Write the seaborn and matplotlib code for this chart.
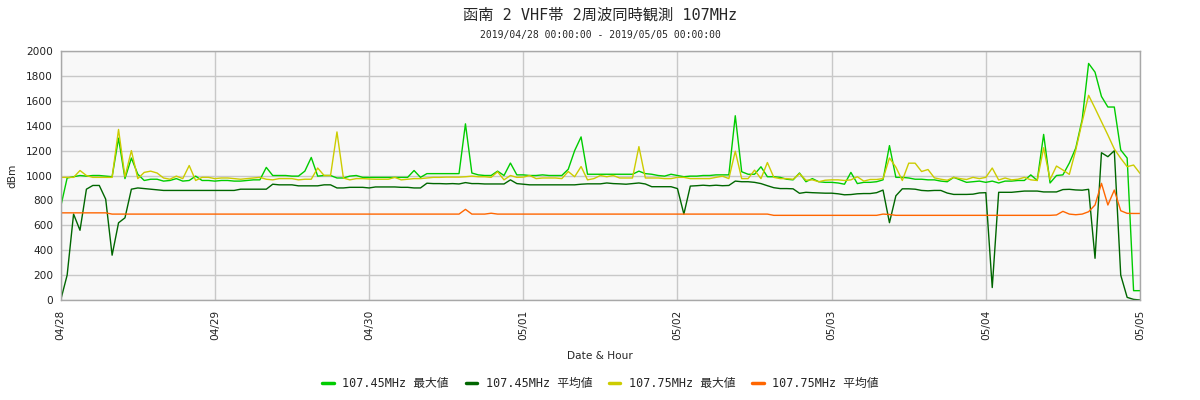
import pandas as pd
import seaborn as sns
import matplotlib.pyplot as plt
import matplotlib.dates as mdates

START = "2019-04-28 00:00"
END = "2019-05-05 00:00"
SERIES = ["107.45MHz 最大値", "107.45MHz 平均値", "107.75MHz 最大値", "107.75MHz 平均値"]
COLORS = ["#00cc00", "#006600", "#cccc00", "#ff6600"]

# hourly values, one row per day (00h..23h), last value is 05/05 00:00
max_45 = [
    750, 980, 990, 1000, 995, 1000, 1000, 995, 990, 1300, 975, 1140, 1010, 960, 970, 970, 955, 960, 975, 955, 960, 995, 960, 960,
    955, 960, 960, 955, 955, 960, 965, 965, 1065, 1000, 1000, 1000, 995, 995, 1035, 1145, 995, 1000, 1000, 980, 980, 995, 1000, 985,
    985, 985, 985, 985, 985, 985, 985, 1040, 985, 1015, 1015, 1015, 1015, 1015, 1015, 1415, 1020, 1005, 1000, 1000, 1035, 1000, 1100, 1005,
    1005, 1000, 1000, 1005, 1000, 1000, 1000, 1050, 1200, 1310, 1010, 1010, 1010, 1010, 1010, 1010, 1010, 1010, 1035, 1015, 1010, 1000, 995, 1010,
    1000, 990, 995, 995, 1000, 1000, 1005, 1005, 1005, 1480, 1030, 1010, 1010, 1070, 990, 990, 985, 970, 965, 1020, 950, 975, 950, 945,
    945, 940, 930, 1025, 935, 945, 945, 950, 965, 1240, 985, 985, 980, 970, 970, 965, 965, 955, 950, 985, 965, 945, 950, 955,
    945, 955, 940, 955, 955, 960, 960, 1005, 960, 1330, 940, 1000, 1005, 1100, 1220, 1450, 1900, 1830, 1635, 1550, 1550, 1205, 1140, 75,
    75,
]
avg_45 = [
    0, 200, 690, 560, 890, 920, 920, 810, 360, 620, 660, 890, 900, 895, 890, 885, 880, 880, 880, 880, 880, 880, 880, 880,
    880, 880, 880, 880, 890, 890, 890, 890, 890, 930, 925, 925, 925, 917, 917, 917, 917, 925, 925, 900, 900, 905, 905, 905,
    900, 908, 908, 908, 908, 905, 905, 900, 900, 938, 935, 935, 933, 935, 932, 943, 935, 935, 932, 932, 932, 932, 965, 935,
    930, 925, 925, 925, 925, 925, 925, 925, 925, 930, 933, 933, 933, 940, 935, 933, 930, 935, 940, 932, 910, 910, 910, 910,
    895, 690, 915, 918, 922, 918, 922, 918, 920, 955, 950, 950, 945, 935, 918, 902, 895, 895, 893, 857, 865, 862, 860, 858,
    858, 853, 845, 847, 853, 855, 855, 862, 883, 621, 837, 893, 893, 890, 880, 877, 880, 880, 859, 848, 848, 848, 850, 860,
    862, 100, 865, 865, 865, 870, 875, 875, 875, 868, 868, 868, 887, 889, 884, 882, 889, 335, 1183, 1151, 1199, 200, 21, 5,
    0,
]
max_75 = [
    985, 985, 985, 1040, 1000, 985, 985, 985, 985, 1370, 990, 1200, 975, 1025, 1035, 1020, 980, 970, 995, 975, 1080, 960, 985, 985,
    975, 980, 980, 975, 970, 975, 980, 985, 970, 965, 975, 975, 975, 965, 970, 970, 1060, 1000, 1000, 1350, 980, 965, 975, 975,
    972, 970, 970, 970, 985, 965, 970, 975, 975, 980, 985, 985, 987, 987, 987, 990, 995, 990, 990, 985, 1030, 965, 1000, 985,
    987, 1000, 975, 980, 980, 980, 975, 1032, 990, 1072, 965, 975, 1000, 990, 1000, 980, 980, 980, 1232, 980, 980, 980, 975, 975,
    985, 985, 975, 975, 975, 975, 985, 995, 975, 1195, 975, 975, 1043, 975, 1104, 985, 975, 975, 970, 1015, 962, 965, 950, 962,
    965, 965, 960, 965, 990, 955, 968, 968, 975, 1141, 1067, 960, 1099, 1099, 1032, 1048, 981, 970, 962, 985, 975, 968, 985, 975,
    985, 1060, 964, 980, 965, 970, 985, 965, 960, 1223, 968, 1076, 1044, 1009, 1205, 1432, 1644, 1540, 1432, 1325, 1213, 1138, 1071, 1084,
    1017,
]
avg_75 = [
    700, 700, 700, 700, 700, 700, 700, 700, 690, 690, 690, 690, 690, 690, 690, 690, 690, 690, 690, 690, 690, 690, 690, 690,
    690, 690, 690, 690, 690, 690, 690, 690, 690, 690, 690, 690, 690, 690, 690, 690, 690, 690, 690, 690, 690, 690, 690, 690,
    690, 690, 690, 690, 690, 690, 690, 690, 690, 690, 690, 690, 690, 690, 690, 728, 690, 690, 690, 697, 690, 690, 690, 690,
    690, 690, 690, 690, 690, 690, 690, 690, 690, 690, 690, 690, 690, 690, 690, 690, 690, 690, 690, 690, 690, 690, 690, 690,
    690, 690, 690, 690, 690, 690, 690, 690, 690, 690, 690, 690, 690, 690, 690, 680, 680, 680, 680, 680, 680, 680, 680, 680,
    680, 680, 680, 680, 680, 680, 680, 680, 690, 687, 680, 680, 680, 680, 680, 680, 680, 680, 680, 680, 680, 680, 680, 680,
    680, 680, 680, 680, 680, 680, 680, 680, 680, 680, 680, 683, 712, 690, 685, 690, 709, 763, 937, 763, 883, 717, 696, 695,
    695,
]

times = pd.date_range(START, END, freq="h")
df = pd.DataFrame({"time": times, SERIES[0]: max_45, SERIES[1]: avg_45,
                   SERIES[2]: max_75, SERIES[3]: avg_75})
df = df.melt(id_vars="time", var_name="series", value_name="dBm")

sns.set_style("whitegrid")
plt.rcParams["font.family"] = ["DejaVu Sans", "Noto Sans CJK JP"]
MONO = ["DejaVu Sans Mono", "Noto Sans CJK JP"]

fig, ax = plt.subplots(figsize=(12, 4), dpi=100)
fig.subplots_adjust(left=0.0506, right=0.95, top=0.8725, bottom=0.25)

sns.lineplot(data=df, x="time", y="dBm", hue="series", hue_order=SERIES,
             palette=COLORS, linewidth=1, ax=ax)

ax.set_facecolor("#f8f8f8")
ax.set_xlim(pd.Timestamp(START), pd.Timestamp(END))
ax.set_ylim(0, 2000)
ax.set_yticks(range(0, 2001, 200))
ax.xaxis.set_major_locator(mdates.DayLocator())
ax.xaxis.set_major_formatter(mdates.DateFormatter("%m/%d"))
ax.grid(True, color="#c8c8c8", linewidth=1)
for s in ax.spines.values():
    s.set_color("#a8a8a8")
    s.set_linewidth(1)
ax.tick_params(length=0, labelsize=7.6, colors="#222222")
ax.tick_params(axis="y", pad=5.5)
ax.tick_params(axis="x", pad=7, labelrotation=90)

ax.set_xlabel("Date & Hour", fontsize=7.6, va="center")
ax.xaxis.set_label_coords(0.5, -0.225)
ax.set_ylabel("dBm", fontsize=7.6, va="center")
ax.yaxis.set_label_coords(-0.045, 0.5)

fig.text(0.5, 1 - 15 / 400, "函南 2 VHF帯 2周波同時観測 107MHz", ha="center", va="center",
         fontsize=11, family=MONO)
fig.text(0.5, 1 - 35 / 400, "2019/04/28 00:00:00 - 2019/05/05 00:00:00", ha="center", va="center",
         fontsize=7, family=MONO)

sns.move_legend(ax, "center", bbox_to_anchor=(0.5, -0.337), ncol=4, frameon=False, title=None,
                handlelength=1.0, handletextpad=0.7, columnspacing=1.4,
                prop={"family": MONO, "size": 8.5})
for h in ax.get_legend().legend_handles:
    h.set_linewidth(2.5)

plt.savefig("out.png", dpi=100)
